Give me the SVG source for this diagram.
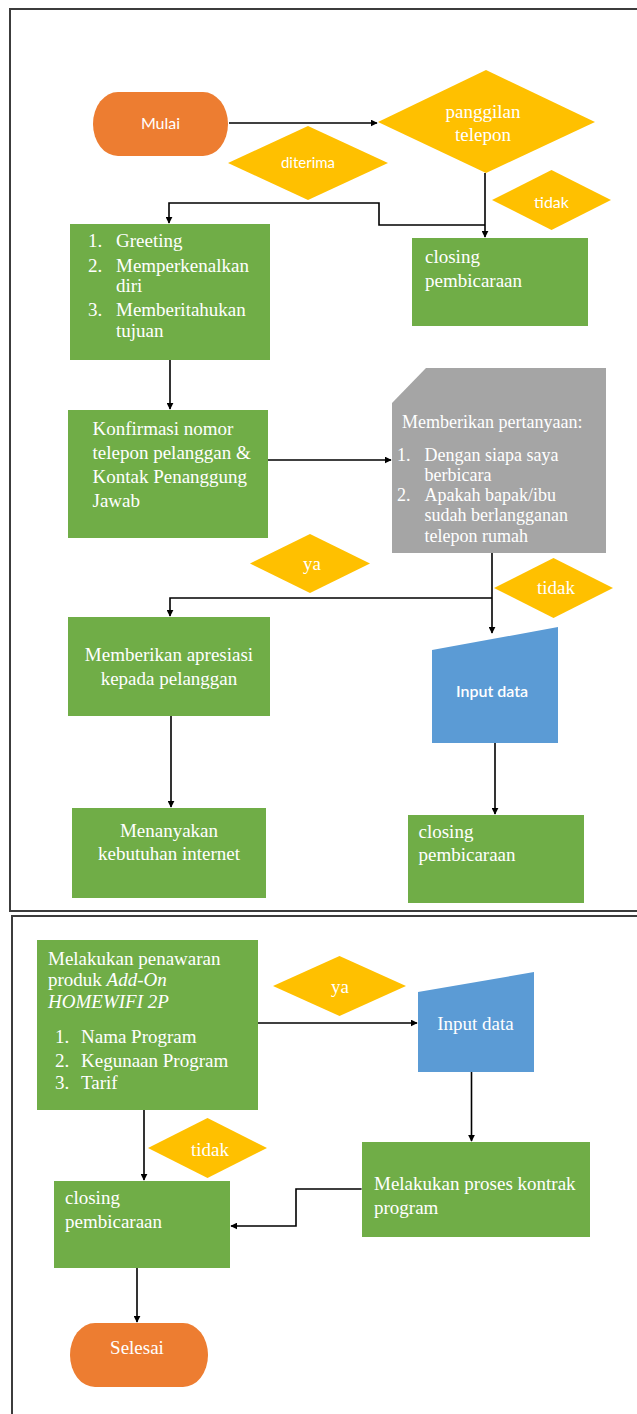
<svg xmlns="http://www.w3.org/2000/svg" width="637" height="1414" viewBox="0 0 637 1414">
<defs>
<marker id="ah" viewBox="0 0 10 10" refX="9" refY="5" markerWidth="7" markerHeight="7" markerUnits="userSpaceOnUse" orient="auto">
<path d="M0,0 L10,5 L0,10 z" fill="#000"/>
</marker>
<style>
.frame{fill:none;stroke:#3c3c3c;stroke-width:2}
.term{fill:#ED7D31}
.dec{fill:#FFC000}
.proc{fill:#70AD47}
.inp{fill:#5B9BD5}
.grey{fill:#A5A5A5}
.s{font-family:"Liberation Serif","Times New Roman",serif;font-size:19px;fill:#fff}
.sg{font-family:"Liberation Serif","Times New Roman",serif;font-size:18px;fill:#fff}
.c{font-family:Lato,"Liberation Sans",sans-serif;font-size:16px;fill:#fff}
.mid{text-anchor:middle}
.conn path{fill:none;stroke:#000;stroke-width:1.6}
.arr{marker-end:url(#ah)}
</style>
</defs>
<rect width="637" height="1414" fill="#fff"/>
<g id="frames">
<path class="frame" d="M637,9 H10 V911 H637"/>
<path class="frame" d="M637,916 H12 V1414"/>
</g>
<g class="conn" id="connectors">
<path class="arr" d="M229,123 H377"/>
<path class="arr" d="M485,173 V237"/>
<path class="arr" d="M485,225 H379 V203 H169 V223"/>
<path class="arr" d="M170,360 V409"/>
<path class="arr" d="M268,460 H391"/>
<path class="arr" d="M492,553 V633"/>
<path class="arr" d="M492,598 H170 V616"/>
<path class="arr" d="M171,716 V807"/>
<path class="arr" d="M495,743 V814"/>
<path class="arr" d="M258,1023 H417"/>
<path class="arr" d="M471.5,1072 V1141"/>
<path class="arr" d="M144,1110 V1180"/>
<path class="arr" d="M361.6,1189 H296 V1226 H231"/>
<path class="arr" d="M137,1268 V1322"/>
</g>
<g id="n-mulai">
<rect class="term" x="93" y="92" width="135" height="64" rx="25" ry="32"/>
<text class="c mid" x="160.5" y="129">Mulai</text>
</g>
<g id="n-panggilan">
<polygon class="dec" points="378,122 486,70 595,122 486,173"/>
<text class="s mid" x="483" y="118">panggilan</text>
<text class="s mid" x="483" y="141">telepon</text>
</g>
<g id="n-diterima">
<polygon class="dec" points="228,163 308,126 388,163 308,200"/>
<text class="c mid" x="308" y="168" style="font-size:15px">diterima</text>
</g>
<g id="n-tidak1">
<polygon class="dec" points="492,200 551.5,170 611,200 551.5,230"/>
<text class="c mid" x="551.5" y="208">tidak</text>
</g>
<g id="n-greeting">
<rect class="proc" x="70" y="224" width="200" height="136"/>
<text class="s" x="88" y="247">1.</text><text class="s" x="116" y="247">Greeting</text>
<text class="s" x="88" y="271.5">2.</text><text class="s" x="116" y="271.5">Memperkenalkan</text>
<text class="s" x="116" y="292">diri</text>
<text class="s" x="88" y="316">3.</text><text class="s" x="116" y="316">Memberitahukan</text>
<text class="s" x="116" y="337">tujuan</text>
</g>
<g id="n-closing1">
<rect class="proc" x="412" y="238" width="176" height="88"/>
<text class="s" x="425" y="263">closing</text>
<text class="s" x="425" y="287">pembicaraan</text>
</g>
<g id="n-konfirmasi">
<rect class="proc" x="68" y="410" width="200" height="128"/>
<text class="s" x="92.5" y="435">Konfirmasi nomor</text>
<text class="s" x="92.5" y="459">telepon pelanggan &amp;</text>
<text class="s" x="92.5" y="483">Kontak Penanggung</text>
<text class="s" x="92.5" y="507">Jawab</text>
</g>
<g id="n-pertanyaan">
<polygon class="grey" points="426,368 606,368 606,553 392,553 392,403"/>
<text class="sg" x="402" y="428">Memberikan pertanyaan:</text>
<text class="sg" x="397" y="461">1.</text><text class="sg" x="424.5" y="461">Dengan siapa saya</text>
<text class="sg" x="424.5" y="480.5">berbicara</text>
<text class="sg" x="397" y="500.5">2.</text><text class="sg" x="424.5" y="500.5">Apakah bapak/ibu</text>
<text class="sg" x="424.5" y="521">sudah berlangganan</text>
<text class="sg" x="424.5" y="541.5">telepon rumah</text>
</g>
<g id="n-ya1">
<polygon class="dec" points="250,563.5 310,534 370,563.5 310,593"/>
<text class="s mid" x="312" y="570">ya</text>
</g>
<g id="n-tidak2">
<polygon class="dec" points="494,588 553.5,558 613,588 553.5,618"/>
<text class="s mid" x="556" y="594">tidak</text>
</g>
<g id="n-apresiasi">
<rect class="proc" x="68" y="617" width="202" height="99"/>
<text class="s mid" x="169" y="661">Memberikan apresiasi</text>
<text class="s mid" x="169" y="685">kepada pelanggan</text>
</g>
<g id="n-input1">
<polygon class="inp" points="432,650 558,627 558,743 432,743"/>
<text class="c mid" x="492" y="697" style="font-weight:600">Input data</text>
</g>
<g id="n-menanyakan">
<rect class="proc" x="72" y="808" width="194" height="90"/>
<text class="s mid" x="169" y="837">Menanyakan</text>
<text class="s mid" x="169" y="859.5">kebutuhan internet</text>
</g>
<g id="n-closing2">
<rect class="proc" x="408" y="815" width="176" height="88"/>
<text class="s" x="418.5" y="838">closing</text>
<text class="s" x="418.5" y="861">pembicaraan</text>
</g>
<g id="n-penawaran">
<rect class="proc" x="37" y="940" width="221" height="170"/>
<text class="s" x="48" y="965">Melakukan penawaran</text>
<text class="s" x="48" y="986">produk <tspan font-style="italic">Add-On</tspan></text>
<text class="s" x="48" y="1008" font-style="italic">HOMEWIFI 2P</text>
<text class="s" x="55" y="1043">1.</text><text class="s" x="81" y="1043">Nama Program</text>
<text class="s" x="55" y="1066.5">2.</text><text class="s" x="81" y="1066.5">Kegunaan Program</text>
<text class="s" x="55" y="1088.5">3.</text><text class="s" x="81" y="1088.5">Tarif</text>
</g>
<g id="n-ya2">
<polygon class="dec" points="273,986 339.5,956 406,986 339.5,1016"/>
<text class="s mid" x="340" y="993">ya</text>
</g>
<g id="n-input2">
<polygon class="inp" points="418,992 534,972 534,1072 418,1072"/>
<text class="s mid" x="475.5" y="1030">Input data</text>
</g>
<g id="n-tidak3">
<polygon class="dec" points="148,1148 207.5,1118 267,1148 207.5,1178"/>
<text class="s mid" x="210" y="1156">tidak</text>
</g>
<g id="n-kontrak">
<rect class="proc" x="362" y="1142" width="228" height="95"/>
<text class="s" x="374" y="1190">Melakukan proses kontrak</text>
<text class="s" x="374" y="1214">program</text>
</g>
<g id="n-closing3">
<rect class="proc" x="54" y="1181" width="176" height="87"/>
<text class="s" x="65" y="1204">closing</text>
<text class="s" x="65" y="1227.5">pembicaraan</text>
</g>
<g id="n-selesai">
<rect class="term" x="70" y="1323" width="138" height="64" rx="25" ry="32"/>
<text class="s mid" x="137" y="1354">Selesai</text>
</g>
</svg>
